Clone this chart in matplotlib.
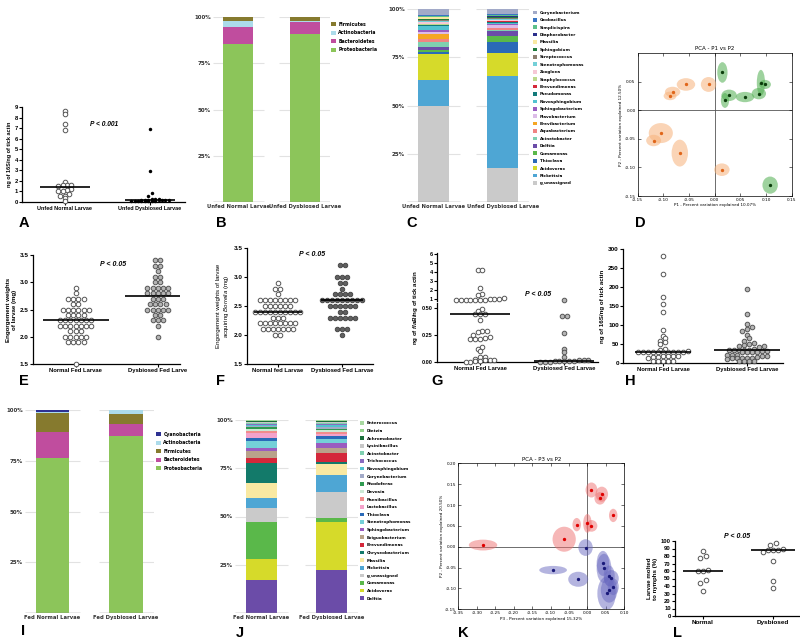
import numpy as np
import matplotlib
matplotlib.use("Agg")
import matplotlib.pyplot as plt
from matplotlib.patches import Ellipse, Patch

plt.rcParams['mathtext.fontset'] = 'custom'
plt.rcParams['mathtext.rm'] = 'Liberation Sans'
plt.rcParams['mathtext.it'] = 'Liberation Sans:italic'
plt.rcParams['mathtext.bf'] = 'Liberation Sans:italic:bold'
plt.rcParams['axes.unicode_minus'] = False

GP = 'Liberation Sans'
BF = 'DejaVu Sans'

# ======================= DATA =======================
# A
A_labels = ['Unfed Normal Larvae', 'Unfed Dysbiosed Larvae']
A_normal = [8.65, 8.35, 7.4, 6.8, 1.85, 1.65, 1.65, 1.6, 1.55, 1.2, 1.1, 1.0, 1.0, 0.75, 0.6, 0.6, 0.35, 0.1]
A_dysbiosed = [6.9, 2.9, 0.85, 0.6, 0.3, 0.3, 0.25, 0.2, 0.2, 0.2, 0.15, 0.15, 0.15, 0.15,
               0.12, 0.1, 0.1, 0.1, 0.1, 0.1, 0.08, 0.08]
A_median = [1.4, 0.15]
A_yticks = [0, 1, 2, 3, 4, 5, 6, 7, 8, 9]

# B
B_labels = ['Unfed Normal Larvae', 'Unfed Dysbiosed Larvae']
B_taxa = ['Proteobacteria', 'Bacteroidetes', 'Actinobacteria', 'Firmicutes']
B_normal = [85.4, 9.4, 3.2, 2.0]
B_dysbiosed = [90.8, 6.3, 0.6, 2.3]

# C
C_labels = ['Unfed Normal Larvae', 'Unfed Dysbiosed Larvae']
C_taxa = ['g_unassigned', 'Rickettsia', 'Acidovorax', 'Thioclava', 'Comamonas', 'Delftia',
          'Acinetobacter', 'Aquabacterium', 'Brevibacterium', 'Flavobacterium', 'Sphingobacterium',
          'Novosphingobium', 'Pseudomonas', 'Brevundimonas', 'Staphylococcus', 'Zoogloea',
          'Stenotrophomonas', 'Streptococcus', 'Sphingobium', 'Massilia', 'Diaphorobacter',
          'Simplicispira', 'Geobacillus', 'Corynebacterium']
C_normal = [49.5, 13.7, 13.3, 1.0, 1.2, 1.5, 2.5, 2.0, 2.5, 0.7, 1.2, 2.0, 0.5, 0.3, 0.5, 0.7,
            0.8, 0.5, 0.5, 0.8, 0.3, 0.5, 0.5, 3.0]
C_dysbiosed = [17.8, 47.5, 11.7, 6.1, 2.9, 2.8, 0.4, 0.8, 0.3, 1.6, 0.4, 0.6, 0.4, 0.3, 0.4, 0.5,
               0.4, 0.4, 0.3, 0.5, 0.3, 0.4, 0.4, 2.8]

# D (PCA P1 vs P2)
D_normal_x = [-0.056, -0.012, -0.082, -0.087, -0.105, -0.119, -0.068, 0.014]
D_normal_y = [0.045, 0.045, 0.032, 0.025, -0.040, -0.053, -0.075, -0.104]
D_normal_w = [0.036, 0.030, 0.030, 0.025, 0.047, 0.029, 0.032, 0.030]
D_normal_h = [0.022, 0.026, 0.018, 0.015, 0.035, 0.020, 0.047, 0.022]
D_dys_x = [0.015, 0.020, 0.028, 0.059, 0.090, 0.098, 0.086, 0.108]
D_dys_y = [0.066, 0.017, 0.026, 0.023, 0.048, 0.045, 0.029, -0.131]
D_dys_w = [0.020, 0.016, 0.030, 0.036, 0.016, 0.023, 0.028, 0.030]
D_dys_h = [0.036, 0.026, 0.020, 0.018, 0.045, 0.016, 0.020, 0.030]

# E
E_labels = ['Normal Fed Larvae', 'Dysbiosed Fed Larve']
E_normal = [2.9, 2.8, 2.7, 2.7, 2.7, 2.7, 2.6, 2.6, 2.5, 2.5, 2.5, 2.5, 2.5, 2.5,
            2.4, 2.4, 2.4, 2.4, 2.3, 2.3, 2.3, 2.3, 2.3, 2.3, 2.3, 2.2, 2.2, 2.2, 2.2, 2.2, 2.2, 2.2,
            2.1, 2.1, 2.1, 2.0, 2.0, 2.0, 2.0, 2.0, 1.9, 1.9, 1.9, 1.9, 1.5]
E_dysbiosed = [3.4, 3.4, 3.3, 3.3, 3.2, 3.1, 3.1, 3.0, 3.0, 2.9, 2.9, 2.9, 2.9, 2.9,
               2.8, 2.8, 2.8, 2.8, 2.8, 2.7, 2.7, 2.7, 2.6, 2.6, 2.6, 2.6,
               2.5, 2.5, 2.5, 2.5, 2.5, 2.4, 2.4, 2.3, 2.3, 2.3, 2.2, 2.0]
E_median = [2.3, 2.75]
E_yticks = [1.5, 2.0, 2.5, 3.0, 3.5]

# F
F_labels = ['Normal fed Larvae', 'Dysbiosed Fed Larvae']
F_normal = [2.9, 2.8, 2.8, 2.7, 2.6, 2.6, 2.6, 2.6, 2.6, 2.6, 2.6, 2.6,
            2.5, 2.5, 2.5, 2.5, 2.5, 2.5, 2.4, 2.4, 2.4, 2.4, 2.4, 2.4, 2.4, 2.4, 2.4, 2.4,
            2.3, 2.3, 2.3, 2.2, 2.2, 2.2, 2.2, 2.2, 2.2, 2.2, 2.2,
            2.1, 2.1, 2.1, 2.1, 2.1, 2.1, 2.1, 2.0, 2.0]
F_dysbiosed = [3.2, 3.2, 3.0, 3.0, 3.0, 2.9, 2.9, 2.8, 2.7, 2.7, 2.7, 2.7,
               2.6, 2.6, 2.6, 2.6, 2.6, 2.6, 2.6, 2.6, 2.6, 2.5, 2.5, 2.5, 2.5, 2.5, 2.5,
               2.4, 2.4, 2.3, 2.3, 2.3, 2.3, 2.3, 2.3, 2.1, 2.1, 2.1, 2.0]
F_median = [2.4, 2.6]

# G (broken axis)
G_labels = ['Normal Fed Larvae', 'Dysbiosed Fed Larvae']
G_normal_high = [4.2, 4.2, 2.2, 1.6, 1.5, 1.15, 1.0, 0.98, 0.97, 0.96, 0.95, 0.95, 0.95, 0.95,
                 0.94, 0.93]
G_normal_low = [0.49, 0.48, 0.45, 0.45, 0.45, 0.39, 0.29, 0.29, 0.28, 0.25, 0.23, 0.22, 0.21, 0.21,
                0.21, 0.14, 0.125, 0.105, 0.047, 0.045, 0.025, 0.02, 0.02, 0.015, 0.01, 0.006, 0.003, 0.002]
G_dys_high = [0.95]
G_dys_low = [0.43, 0.43, 0.27, 0.125, 0.094, 0.047, 0.02, 0.018, 0.015, 0.012, 0.01, 0.008,
             0.006, 0.005, 0.004, 0.003, 0.002]
G_median = [0.45, 0.006]

# H
H_labels = ['Normal Fed Larvae', 'Dysbiosed Fed Larvae']
H_normal = [282, 234, 175, 156, 134, 87, 72, 67, 59, 54, 50, 38, 35, 31, 30, 30, 30, 30, 30, 30,
            29, 29, 28, 28, 19, 19, 18, 18, 17, 15, 12, 6, 5, 4, 4, 4]
H_dysbiosed = [195, 129, 103, 96, 90, 85, 73, 66, 59, 53, 51, 48, 46, 44, 42, 36, 35, 34, 34, 33,
               33, 32, 31, 30, 30, 29, 28, 22, 21, 20, 19, 18, 17, 14, 13, 13, 12, 12, 11, 6, 5, 4, 4]
H_median = [30, 34]

# I
I_labels = ['Fed Normal Larvae', 'Fed Dysbiosed Larvae']
I_taxa = ['Proteobacteria', 'Bacteroidetes', 'Firmicutes', 'Actinobacteria', 'Cyanobacteria']
I_normal = [76.5, 12.8, 9.2, 0.3, 1.2]
I_dysbiosed = [87.3, 5.6, 5.3, 1.8, 0.0]

# J
J_labels = ['Fed Normal Larvae', 'Fed Dysbiosed Larvae']
J_taxa = ['Delftia', 'Acidovorax', 'Comamonas', 'g_unassigned', 'Rickettsia', 'Massilia',
          'Chryseobacterium', 'Brevundimonas', 'Exiguobacterium', 'Sphingobacterium',
          'Stenotrophomonas', 'Thioclava', 'Lactobacillus', 'Paenibacillus', 'Devosia',
          'Rhodoferax', 'Corynebacterium', 'Novosphingobium', 'Trichococcus', 'Acinetobacter',
          'Lysinibacillus', 'Achromobacter', 'Dietzia', 'Enterococcus']
J_normal = [17.1, 10.7, 19.1, 7.4, 5.3, 7.6, 10.4, 2.9, 3.4, 1.7, 3.5, 1.4, 2.9, 1.0, 0.8, 1.0,
            0.7, 0.5, 0.5, 0.6, 0.5, 0.4, 0.3, 0.3]
J_dysbiosed = [22.3, 24.7, 2.4, 13.3, 9.0, 5.7, 0.6, 4.7, 2.6, 2.6, 2.3, 1.7, 1.0, 0.8, 1.0, 0.8,
               1.0, 0.8, 0.8, 0.5, 0.5, 0.3, 0.3, 0.3]

# K (PCA P3 vs P2)
K_normal_x = [-0.283, -0.063, -0.029, 0.000, 0.011, 0.011, 0.039, 0.034, 0.070]
K_normal_y = [0.004, 0.018, 0.053, 0.056, 0.050, 0.136, 0.126, 0.116, 0.075]
K_normal_w = [0.077, 0.063, 0.023, 0.023, 0.032, 0.032, 0.034, 0.030, 0.023]
K_normal_h = [0.026, 0.060, 0.032, 0.045, 0.028, 0.036, 0.036, 0.030, 0.032]
K_dys_x = [-0.005, -0.093, -0.025, 0.042, 0.045, 0.059, 0.065, 0.059, 0.052, 0.070]
K_dys_y = [-0.002, -0.056, -0.078, -0.040, -0.052, -0.070, -0.076, -0.104, -0.112, -0.096]
K_dys_w = [0.039, 0.075, 0.054, 0.034, 0.040, 0.030, 0.040, 0.045, 0.050, 0.030]
K_dys_h = [0.040, 0.020, 0.036, 0.060, 0.070, 0.050, 0.040, 0.060, 0.080, 0.040]

# L
L_labels = ['Normal', 'Dysbiosed']
L_normal = [87, 80, 78, 62, 60, 60, 48, 44, 33]
L_dysbiosed = [97, 95, 90, 88, 88, 88, 85, 73, 47, 37]
L_median = [60, 88]

COL = {
    'Proteobacteria': '#8cc55a', 'Bacteroidetes': '#c04d9e', 'Actinobacteria': '#acdbea',
    'Firmicutes': '#867a2e', 'Cyanobacteria': '#2e3192',
    'Corynebacterium': '#a2aac8', 'Geobacillus': '#3a75c4', 'Simplicispira': '#5cc08a',
    'Diaphorobacter': '#2b2f8c', 'Massilia': '#f9e9a2', 'Sphingobium': '#1f7a3c',
    'Streptococcus': '#8c7f70', 'Stenotrophomonas': '#74d0d8', 'Zoogloea': '#f6c8d6',
    'Staphylococcus': '#bcd98c', 'Brevundimonas': '#d4283a', 'Pseudomonas': '#137a7a',
    'Novosphingobium': '#52c2d0', 'Sphingobacterium': '#9a5cc0', 'Flavobacterium': '#dcbce8',
    'Brevibacterium': '#f5a623', 'Aquabacterium': '#f08482', 'Acinetobacter': '#7fd0b0',
    'Delftia': '#6b4ca8', 'Comamonas': '#5ab84a', 'Thioclava': '#2a6ab8',
    'Acidovorax': '#d6da2a', 'Rickettsia': '#4ea6d4', 'g_unassigned': '#cacaca',
    'Enterococcus': '#a8d8a0', 'Dietzia': '#93d28c', 'Achromobacter': '#1a6e3a',
    'Lysinibacillus': '#c8c8c8', 'Trichococcus': '#8a6cc0', 'Rhodoferax': '#2f9a50',
    'Devosia': '#cce9d4', 'Paenibacillus': '#f28c8c', 'Lactobacillus': '#f4a2cb',
    'Exiguobacterium': '#b9a28a', 'Chryseobacterium': '#137a6a',
}

# ======================= FIGURE =======================
W, H = 800, 640
fig = plt.figure(figsize=(8, 6.4), dpi=100)


def pax(l, t, r, b):
    return fig.add_axes([l / W, 1 - b / H, (r - l) / W, (b - t) / H])


def swarm(vals, xppu, binw, d):
    """GraphPad-like column scatter: bin values into rows, spread each row symmetrically."""
    vals = np.asarray(vals, float)
    rows = np.round(vals / binw + 1e-9).astype(int)
    off = np.zeros(len(vals))
    for r in np.unique(rows):
        idx = np.where(rows == r)[0]
        idx = idx[np.argsort(vals[idx], kind='stable')]
        n = len(idx)
        for j, i in enumerate(idx):
            off[i] = (j - (n - 1) / 2) * d / xppu
    return off


def gp_style(ax, yticks, ylabels, xlabels, fs_tick=4.6, fs_x=4.2):
    ax.spines['top'].set_visible(False)
    ax.spines['right'].set_visible(False)
    for s in ('left', 'bottom'):
        ax.spines[s].set_linewidth(0.9)
    ax.set_yticks(yticks, ylabels, fontsize=fs_tick, fontweight='bold', family=GP)
    if xlabels is not None:
        ax.set_xticks(range(len(xlabels)), xlabels, fontsize=fs_x, fontweight='bold', family=GP)
    ax.tick_params(direction='out', length=2, width=0.8, pad=1)


def points(ax, k, vals, xppu, binw, d, style):
    off = swarm(vals, xppu, binw, d)
    ax.plot(k + off, vals, linestyle='none', clip_on=False, zorder=3, **style)


def median_line(ax, k, val, hw):
    ax.hlines(val, k - hw, k + hw, color='black', lw=1.2, zorder=4)


OPEN = dict(marker='o', ms=3.3, mfc='white', mec='#555555', mew=0.7)
GRAYF = dict(marker='o', ms=3.3, mfc='#b5b5b5', mec='#555555', mew=0.7)
DARKF = dict(marker='o', ms=3.3, mfc='#606060', mec='#404040', mew=0.6)


def ptext(x, y, s, size=5.0):
    fig.text(x / W, 1 - y / H, s, fontsize=size, fontweight='bold', style='italic',
             family=GP, ha='center', va='center')


def letter(x, y, s):
    fig.text(x / W, 1 - y / H, s, fontsize=10.5, fontweight='bold', family=GP,
             ha='left', va='center')


def stacked(ax, cats, taxa, series, width, half_grid, fs_y=4.0, fs_x=3.8):
    x = np.arange(len(cats))
    bottoms = np.zeros(len(cats))
    for ti, tname in enumerate(taxa):
        v = np.array([s[ti] for s in series])
        ax.bar(x, v, width, bottom=bottoms, color=COL[tname], linewidth=0, zorder=2)
        bottoms += v
    for yv in [25, 50, 75, 100]:
        ax.hlines([yv] * len(x), x - half_grid, x + half_grid, color='#e2e2e2', lw=0.8, zorder=1)
    ax.hlines([0] * len(x), x - half_grid, x + half_grid, color='#8a8a8a', lw=1.0, zorder=3)
    ax.set_xlim(-half_grid, len(cats) - 1 + half_grid)
    ax.set_ylim(0, 100)
    for s in ax.spines.values():
        s.set_visible(False)
    ax.set_yticks([25, 50, 75, 100], ['25%', '50%', '75%', '100%'], fontsize=fs_y,
                  fontweight='bold', family=BF, color='#333333')
    ax.set_xticks(x, cats, fontsize=fs_x, fontweight='bold', family=BF, color='#333333')
    ax.tick_params(length=0, pad=1.5)


def bar_legend(x, y, taxa_top_down, size=3.0, spacing=0.75):
    handles = [Patch(facecolor=COL[t], edgecolor='none') for t in taxa_top_down]
    fig.legend(handles, taxa_top_down, loc='upper left', bbox_to_anchor=(x / W, 1 - y / H),
               frameon=False, prop=dict(family=BF, weight='bold', size=size),
               handlelength=1.0, handleheight=1.0, handletextpad=0.6, labelspacing=spacing,
               borderpad=0, borderaxespad=0)


def pca(ax, groups, title, xlabel, ylabel, xlim, ylim, xticks, yticks):
    for (xs, ys, ws, hs, fc, dc, al) in groups:
        for xv, yv, wv, hv in zip(xs, ys, ws, hs):
            ax.add_patch(Ellipse((xv, yv), wv, hv, facecolor=fc, edgecolor='none', alpha=al, zorder=2))
        ax.plot(xs, ys, 'o', ms=1.4, color=dc, zorder=3, linestyle='none')
    ax.axhline(0, color='#555555', lw=0.6, zorder=1)
    ax.axvline(0, color='#555555', lw=0.6, zorder=1)
    ax.set_xlim(*xlim)
    ax.set_ylim(*ylim)
    ax.set_xticks(xticks, ['%.2f' % v for v in xticks], fontsize=3.1, family=BF)
    ax.set_yticks(yticks, ['%.2f' % v for v in yticks], fontsize=3.1, family=BF)
    ax.tick_params(direction='in', top=True, right=True, length=2, width=0.4, pad=1.5)
    for s in ax.spines.values():
        s.set_linewidth(0.5)
    ax.set_title(title, fontsize=4.0, family=BF, pad=2)
    ax.set_xlabel(xlabel, fontsize=3.0, family=BF, labelpad=1)
    ax.set_ylabel(ylabel, fontsize=3.0, family=BF, labelpad=1)


# ---------------- A ----------------
ax = pax(22, 107, 185, 202)
ax.set_xlim(-0.5, 1.41)
ax.set_ylim(0, 9)
xppu = 85
points(ax, 0, A_normal, xppu, 0.4, 4.2, OPEN)
points(ax, 1, A_dysbiosed, xppu, 0.4, 3.4, dict(marker='o', ms=2.5, color='black', mew=0))
median_line(ax, 0, A_median[0], 25 / xppu)
median_line(ax, 1, A_median[1], 25 / xppu)
gp_style(ax, A_yticks, [str(v) for v in A_yticks], A_labels, fs_tick=4.2, fs_x=3.9)
ax.set_ylabel('ng of 16S/ng of tick actin', fontsize=4.0, fontweight='bold', family=GP, labelpad=2)
ptext(104, 125, 'P < 0.001', 4.8)
letter(19, 223, 'A')

# ---------------- B ----------------
ax = pax(213, 17, 330, 202)
stacked(ax, B_labels, B_taxa, [B_normal, B_dysbiosed], 0.45, 0.38)
bar_legend(331, 22, B_taxa[::-1], size=3.3, spacing=0.75)
letter(216, 223, 'B')

# ---------------- C ----------------
ax = pax(407, 9, 529, 202)
stacked(ax, C_labels, C_taxa, [C_normal, C_dysbiosed], 0.446, 0.38)
bar_legend(533, 10.5, C_taxa[::-1], size=3.0, spacing=0.75)
letter(406, 223, 'C')

# ---------------- D ----------------
ax = pax(637.7, 53, 791.7, 196)
pca(ax, [(D_normal_x, D_normal_y, D_normal_w, D_normal_h, '#f7b27a', '#e0661a', 0.55),
         (D_dys_x, D_dys_y, D_dys_w, D_dys_h, '#4fae4f', '#0b3d0b', 0.55)],
    'PCA - P1 vs P2', 'P1 - Percent variation explained 10.07%',
    'P2 - Percent variation explained 12.50%', (-0.15, 0.15), (-0.15, 0.10),
    [-0.15, -0.10, -0.05, 0.0, 0.05, 0.10, 0.15], [-0.15, -0.10, -0.05, 0.0, 0.05])
letter(635, 223, 'D')

# ---------------- E ----------------
ax = pax(33, 255, 180, 364)
ax.set_xlim(-0.52, 1.27)
ax.set_ylim(1.5, 3.5)
xppu = 82
points(ax, 0, E_normal, xppu, 0.1, 5.2, OPEN)
points(ax, 1, E_dysbiosed, xppu, 0.1, 5.2, GRAYF)
median_line(ax, 0, E_median[0], 33 / xppu)
median_line(ax, 1, E_median[1], 33 / xppu)
gp_style(ax, E_yticks, ['%.1f' % v for v in E_yticks], E_labels)
ax.set_ylabel('Engorgement weights\nof larvae (mg)', fontsize=4.4, fontweight='bold', family=GP,
              labelpad=2)
ptext(113, 264, 'P < 0.05')
letter(19, 381, 'E')

# ---------------- F ----------------
ax = pax(247, 248, 373, 364)
ax.set_xlim(-0.48, 1.48)
ax.set_ylim(1.5, 3.5)
xppu = 64
points(ax, 0, F_normal, xppu, 0.1, 5.0, OPEN)
points(ax, 1, F_dysbiosed, xppu, 0.1, 5.0, DARKF)
median_line(ax, 0, F_median[0], 24 / xppu)
median_line(ax, 1, F_median[1], 21 / xppu)
gp_style(ax, E_yticks, ['%.1f' % v for v in E_yticks], F_labels)
ax.set_ylabel('Engorgement weights of larvae\nacquiring $\\mathit{Borrelia}$ (mg)', fontsize=4.4,
              family=GP, labelpad=2)
ptext(312, 255, 'P < 0.05')
letter(216, 381, 'F')

# ---------------- G ----------------
axl = pax(437, 303, 598, 362)
axu = pax(437, 253, 598, 301)
for a in (axl, axu):
    a.set_xlim(-0.51, 1.40)
axl.set_ylim(0, 0.55)
axu.set_ylim(0.8, 6.1)
xppu = 84
points(axl, 0, G_normal_low, xppu, 0.045, 4.8, OPEN)
points(axl, 1, G_dys_low, xppu, 0.045, 4.8, GRAYF)
points(axu, 0, G_normal_high, xppu, 0.5, 4.8, OPEN)
points(axu, 1, G_dys_high, xppu, 0.5, 4.8, GRAYF)
median_line(axl, 0, G_median[0], 30 / xppu)
median_line(axl, 1, G_median[1], 30 / xppu)
gp_style(axl, [0, 0.25, 0.5], ['0.00', '0.25', '0.50'], G_labels, fs_tick=4.0)
gp_style(axu, [1, 2, 3, 4, 5, 6], ['1', '2', '3', '4', '5', '6'], None, fs_tick=4.0)
axu.spines['bottom'].set_visible(False)
axu.set_xticks([])
fig.text(415 / W, 1 - 308 / H, 'ng of $\\mathbf{flaB}$/ng of tick actin', rotation=90,
         fontsize=4.4, fontweight='bold', family=GP, ha='center', va='center')
ptext(538, 294, 'P < 0.05')
letter(431, 381, 'G')

# ---------------- H ----------------
ax = pax(623, 249, 783, 363)
ax.set_xlim(-0.476, 1.43)
ax.set_ylim(0, 300)
xppu = 84
points(ax, 0, H_normal, xppu, 13, 5.0, OPEN)
points(ax, 1, H_dysbiosed, xppu, 13, 5.0, GRAYF)
median_line(ax, 0, H_median[0], 28 / xppu)
median_line(ax, 1, H_median[1], 33 / xppu)
H_yt = [0, 50, 100, 150, 200, 250, 300]
gp_style(ax, H_yt, [str(v) for v in H_yt], H_labels)
ax.set_ylabel('ng of 16S/ng of tick actin', fontsize=4.4, fontweight='bold', family=GP, labelpad=2)
letter(625, 381, 'H')

# ---------------- I ----------------
ax = pax(25, 410, 153.5, 613)
stacked(ax, I_labels, I_taxa, [I_normal, I_dysbiosed], 0.45, 0.374)
bar_legend(156, 432, I_taxa[::-1], size=3.3, spacing=0.75)
letter(21, 631, 'I')

# ---------------- J ----------------
ax = pax(235, 420, 358, 613)
stacked(ax, J_labels, J_taxa, [J_normal, J_dysbiosed], 0.44, 0.38)
bar_legend(360, 421, J_taxa[::-1], size=3.0, spacing=0.8)
letter(236, 633, 'J')

# ---------------- K ----------------
ax = pax(458.3, 463.3, 624.3, 609.3)
pca(ax, [(K_normal_x, K_normal_y, K_normal_w, K_normal_h, '#ee7070', '#e00000', 0.5),
         (K_dys_x, K_dys_y, K_dys_w, K_dys_h, '#6a6ac0', '#1a1a7a', 0.5)],
    'PCA - P3 vs P2', 'P3 - Percent variation explained 15.32%',
    'P2 - Percent variation explained 20.50%', (-0.35, 0.10), (-0.15, 0.20),
    [-0.35, -0.30, -0.25, -0.20, -0.15, -0.10, -0.05, 0.0, 0.05, 0.10],
    [-0.15, -0.10, -0.05, 0.0, 0.05, 0.10, 0.15, 0.20])
letter(458, 633, 'K')

# ---------------- L ----------------
ax = pax(675, 541, 799, 616)
ax.set_xlim(-0.4, 1.37)
ax.set_ylim(0, 100)
xppu = 70
points(ax, 0, L_normal, xppu, 6.7, 5.2, OPEN)
points(ax, 1, L_dysbiosed, xppu, 6.7, 5.2, OPEN)
median_line(ax, 0, L_median[0], 20 / xppu)
median_line(ax, 1, L_median[1], 22 / xppu)
L_yt = [0, 10, 20, 30, 40, 50, 60, 70, 80, 90, 100]
gp_style(ax, L_yt, [str(v) for v in L_yt], L_labels, fs_tick=4.2, fs_x=4.6)
ax.set_ylabel('Larvae molted\nto nymphs (%)', fontsize=4.4, fontweight='bold', family=GP, labelpad=2)
ptext(737, 537, 'P < 0.05')
letter(673, 633, 'L')

fig.savefig('out.png', dpi=100, facecolor='white')
